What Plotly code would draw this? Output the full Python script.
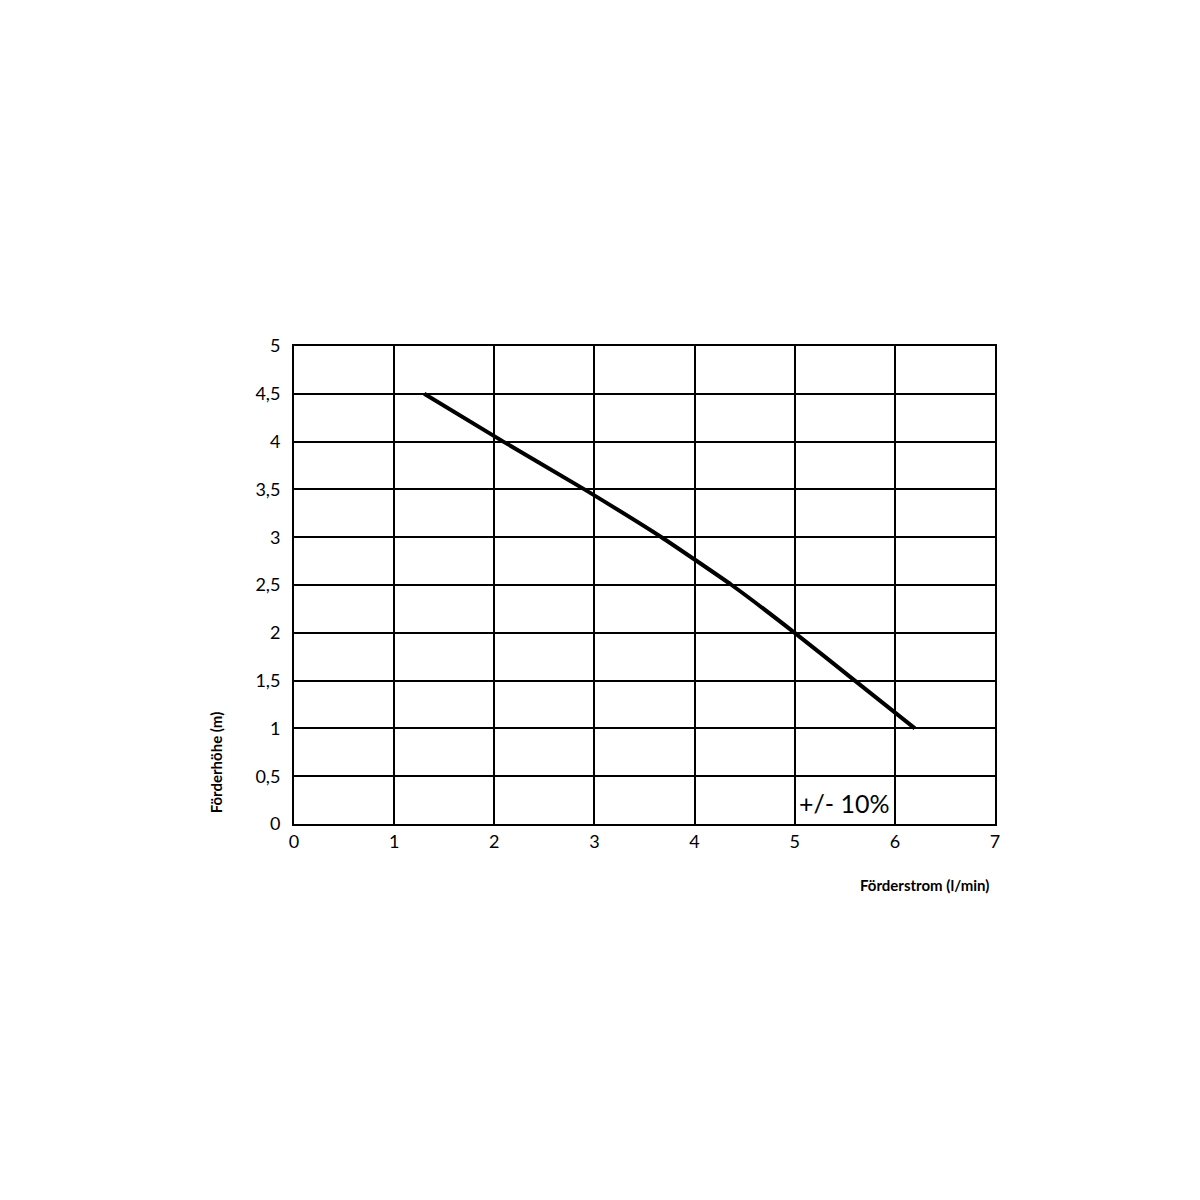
import plotly.graph_objects as go

flow = [1.3, 2.09, 2.9, 3.67, 4.37, 5.0, 5.6, 6.2]
head = [4.5, 4.0, 3.5, 3.0, 2.5, 2.0, 1.5, 1.0]

x_ticks = [0, 1, 2, 3, 4, 5, 6, 7]
x_labels = ["0", "1", "2", "3", "4", "5", "6", "7"]
y_ticks = [0, 0.5, 1, 1.5, 2, 2.5, 3, 3.5, 4, 4.5, 5]
y_labels = ["0", "0,5", "1", "1,5", "2", "2,5", "3", "3,5", "4", "4,5", "5"]

font_fam = "Lato, Open Sans, sans-serif"

fig = go.Figure()
fig.add_trace(go.Scatter(x=flow, y=head, mode="lines",
                         line=dict(color="black", width=4, shape="spline", smoothing=0.4),
                         showlegend=False, hoverinfo="skip"))

fig.update_layout(
    width=1200, height=1200,
    margin=dict(l=286, r=213, t=338, b=384),
    paper_bgcolor="white", plot_bgcolor="white",
    font=dict(family=font_fam, color="black", size=18),
)
fig.update_xaxes(range=[0, 7], tickvals=x_ticks, ticktext=x_labels,
                 showgrid=True, gridcolor="black", gridwidth=2,
                 showline=True, linecolor="black", linewidth=2, mirror=True,
                 zeroline=False, ticks="", ticklabelstandoff=0,
                 tickfont=dict(family=font_fam, size=18))
fig.update_yaxes(range=[0, 5], tickvals=y_ticks, ticktext=y_labels,
                 showgrid=True, gridcolor="black", gridwidth=2,
                 showline=True, linecolor="black", linewidth=2, mirror=True,
                 zeroline=False, ticks="", ticklabelstandoff=8,
                 tickfont=dict(family=font_fam, size=18))

fig.add_annotation(text="<b>Förderhöhe (m)</b>", xref="paper", yref="paper",
                   x=-0.112, y=0.13, textangle=-90, showarrow=False,
                   xanchor="center", yanchor="middle",
                   font=dict(family=font_fam, size=15, color="black"))
fig.add_annotation(text="<b>Förderstrom (l/min)</b>", xref="paper", yref="paper",
                   x=0.995, y=-0.128, showarrow=False,
                   xanchor="right", yanchor="middle",
                   font=dict(family=font_fam, size=15, color="black"))
fig.add_annotation(text="+/- 10%", xref="x", yref="y",
                   x=5.5, y=0.22, showarrow=False,
                   xanchor="center", yanchor="middle",
                   font=dict(family=font_fam, size=25, color="black"))

fig.write_html("out.html")
